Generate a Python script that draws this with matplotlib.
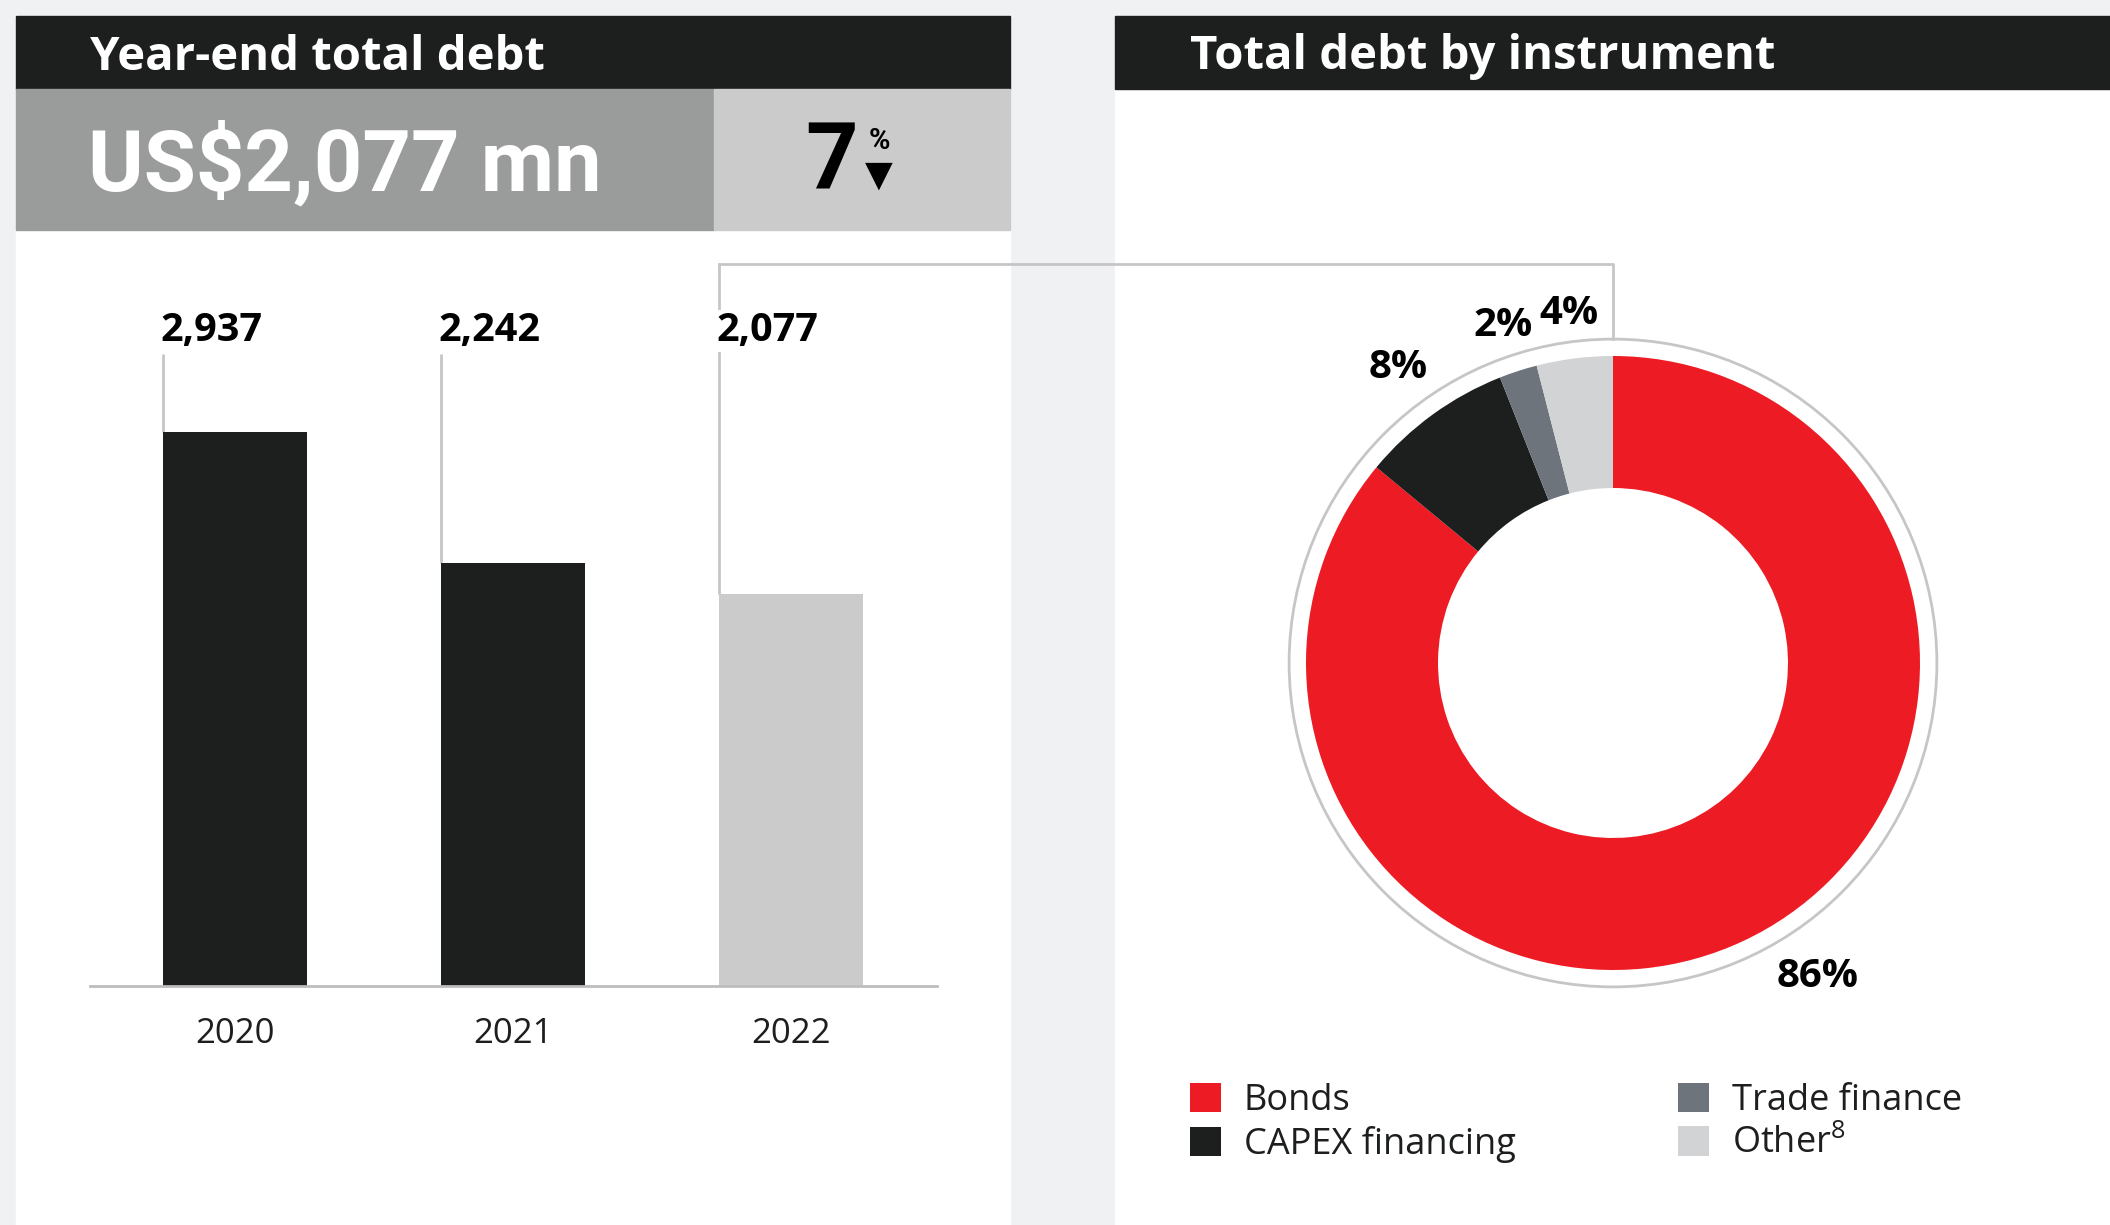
import matplotlib
matplotlib.use('Agg')
import matplotlib.pyplot as plt
from matplotlib.patches import Rectangle, Circle, Patch
import numpy as np

# ---------------- data ----------------
years = ['2020', '2021', '2022']
debt = [2937, 2242, 2077]
value_labels = ['2,937', '2,242', '2,077']
bar_colors = ['#1D1E1E', '#1D1E1E', '#CBCBCB']

instruments = ['Bonds', 'CAPEX financing', 'Trade finance', 'Other$^{8}$']
shares = [86, 8, 2, 4]
share_labels = ['86%', '8%', '2%', '4%']
inst_colors = ['#ED1C24', '#1D1E1E', '#6D747B', '#D1D3D5']

title_left = 'Year-end total debt'
title_right = 'Total debt by instrument'
headline = 'US$2,077 mn'
change_value = '7'

# ---------------- style ----------------
plt.rcParams['font.family'] = ['Open Sans', 'DejaVu Sans']
plt.rcParams['mathtext.fontset'] = 'custom'
plt.rcParams['mathtext.rm'] = 'Open Sans'
plt.rcParams['mathtext.it'] = 'Open Sans'
DARK = '#1D1E1E'
LINE = '#C6C6C6'
COND = ['Roboto', 'DejaVu Sans']

W, H = 2110, 1225
fig = plt.figure(figsize=(W / 100, H / 100), dpi=100)
fig.patch.set_facecolor('#F0F1F3')

def fx(px):
    return px / W

def fy(py):
    return 1 - py / H

# background / overlay axes in pixel coordinates
bg = fig.add_axes([0, 0, 1, 1])
bg.set_xlim(0, W)
bg.set_ylim(H, 0)
bg.axis('off')
bg.add_patch(Rectangle((16, 16), 994, H, color='white', zorder=0))
bg.add_patch(Rectangle((1115, 16), W - 1115, H, color='white', zorder=0))
bg.add_patch(Rectangle((16, 16), 994, 73, color=DARK, zorder=1))
bg.add_patch(Rectangle((1115, 16), W - 1115, 73, color=DARK, zorder=1))
bg.add_patch(Rectangle((16, 89), 698, 141, color='#9A9C9B', zorder=1))
bg.add_patch(Rectangle((714, 89), 296, 141, color='#CBCBCB', zorder=1))

bg.text(90, 57, title_left, color='white', fontsize=34, fontweight='bold',
        va='center', ha='left', zorder=3)
bg.text(1190, 57, title_right, color='white', fontsize=34, fontweight='bold',
        va='center', ha='left', zorder=3)
bg.text(88, 164, headline, color='white', fontsize=61, fontweight='bold',
        family=COND, va='center', ha='left', zorder=3)
bg.text(858, 164, change_value, color='black', fontsize=66, fontweight='bold',
        family=COND, va='center', ha='right', zorder=3)
bg.text(879, 141, '%', color='black', fontsize=21, fontweight='bold',
        family=COND, va='center', ha='center', zorder=3)
bg.text(879, 176, '\u25BC', color='black', fontsize=26,
        family=['DejaVu Sans'], va='center', ha='center', zorder=3)

# ---------------- bar chart ----------------
base_px, top_px = 986, 264
ax_left_px, ax_right_px = 90, 937
ytop = 3830
bax = fig.add_axes([fx(ax_left_px), fy(base_px),
                    fx(ax_right_px - ax_left_px), (base_px - top_px) / H])
bax.set_facecolor('none')
x = np.arange(len(years))
bw = 0.518
bax.bar(x, debt, width=bw, color=bar_colors, zorder=2)
bax.set_xlim(-0.522, 2.525)
bax.set_ylim(0, ytop)
for s in ['left', 'right', 'top']:
    bax.spines[s].set_visible(False)
bax.spines['bottom'].set_color('#BDBDBD')
bax.spines['bottom'].set_linewidth(2)
bax.set_yticks([])
bax.set_xticks(x, years)
bax.tick_params(axis='x', length=0, pad=22, labelsize=25, labelcolor=DARK)

def py2data(py):
    return (base_px - py) / (base_px - top_px) * ytop

label_y = py2data(331)
line_top = [py2data(354), py2data(354), ytop]
bax.vlines(x - bw / 2, debt, line_top, color=LINE, lw=2, zorder=1, clip_on=False)
for xi, lbl in zip(x, value_labels):
    bax.text(xi - bw / 2 - 0.008, label_y, lbl, ha='left', va='center',
             fontsize=28.5, fontweight='bold', color='black', zorder=3,
             bbox=dict(facecolor='white', edgecolor='none', pad=1))

# ---------------- donut ----------------
cx, cy, R_px = 1613, 663, 307
half = 1.1 * R_px
pax = fig.add_axes([fx(cx - half), fy(cy + half), 2 * half / W, 2 * half / H])
pax.set_facecolor('none')
wedges, _ = pax.pie(shares, colors=inst_colors, startangle=90, counterclock=False,
                    radius=1, wedgeprops=dict(width=0.43, edgecolor='none'))
pax.set_xlim(-1.1, 1.1)
pax.set_ylim(-1.1, 1.1)
pax.set_aspect('equal')
ring_r = 1.055
pax.add_patch(Circle((0, 0), ring_r, fill=False, ec=LINE, lw=2))

label_r = [1.22, 1.19, 1.155, 1.146]
angle_shift = [8, 0, 0, 0]
cum = np.cumsum([0] + shares[:-1])
for share, start, lab, r, sh in zip(shares, cum, share_labels, label_r, angle_shift):
    mid = 90 - (start + share / 2) / sum(shares) * 360 + sh
    pax.text(r * np.cos(np.radians(mid)), r * np.sin(np.radians(mid)), lab,
             ha='center', va='center', fontsize=29, fontweight='bold',
             color='black', clip_on=False)

# connector line from 2022 bar to donut
ring_top_px = cy - ring_r * R_px
bar22_left_px = ax_left_px + (x[2] - bw / 2 + 0.522) / (2.525 + 0.522) * (ax_right_px - ax_left_px)
bg.plot([bar22_left_px, cx, cx], [top_px, top_px, ring_top_px], color=LINE, lw=2, zorder=2)

# ---------------- legend ----------------
handles = [Patch(facecolor=c, edgecolor='none') for c in inst_colors]
fig.legend(handles, instruments, loc='upper left',
           bbox_to_anchor=(fx(1172), fy(1065)), ncol=2, frameon=False,
           fontsize=26, handlelength=0.86, handleheight=0.86, handletextpad=0.63,
           columnspacing=4.5, labelspacing=0.2, borderpad=0, labelcolor=DARK)

fig.savefig('out.png', dpi=100, facecolor=fig.get_facecolor())
